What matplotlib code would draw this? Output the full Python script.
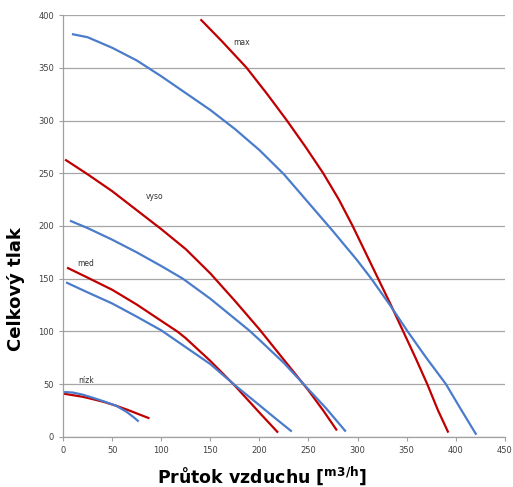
import matplotlib
matplotlib.use('Agg')
import matplotlib.pyplot as plt

# curve data (flow m3/h, total pressure)
max_red_x = [140, 162, 187, 208, 228, 247, 265, 281, 295, 308, 321, 334, 346.5, 359, 371, 382, 392.5]
max_red_y = [396, 375, 350, 325, 300, 275, 250, 225, 200, 175, 150, 125, 100, 75, 50, 25, 4]
max_blue_x = [9, 25, 50, 75, 100, 125, 150, 175, 200, 225, 250, 275, 300, 314, 333, 351, 370, 390, 406, 421]
max_blue_y = [382, 379, 369, 357, 342, 326, 310, 292, 272, 249, 222, 195, 167, 150, 125, 100, 75, 50, 25, 2]

vyso_red_x = [2, 25, 50, 75, 100, 125, 150, 175, 200, 225, 250, 265, 279]
vyso_red_y = [263, 249, 233, 215, 197, 178, 155, 129, 102, 73, 44, 25, 6]
vyso_blue_x = [7, 25, 50, 75, 100, 122, 150, 175, 189.5, 200, 225, 237, 250, 268, 288]
vyso_blue_y = [205, 198, 187, 175, 162, 150, 131, 112, 101, 92, 70, 58, 45, 27, 5]

med_red_x = [4, 25, 50, 75, 100, 117, 125, 150, 175, 200, 219]
med_red_y = [160.5, 151, 139.5, 125.5, 110, 99.5, 93.5, 72, 48.5, 23, 4]
med_blue_x = [3, 25, 50, 75, 100, 125, 150, 175, 200, 215, 233]
med_blue_y = [146.5, 137, 126.5, 114, 101, 85, 69, 49, 30, 18.5, 5]

nizk_red_x = [0, 10, 20, 30.5, 42, 54, 66, 77, 88]
nizk_red_y = [41, 39.5, 38, 35.7, 33, 29.5, 25.5, 21.5, 17.5]
nizk_blue_x = [1, 10, 20, 30.5, 42, 54, 65, 72, 77]
nizk_blue_y = [42.5, 42, 40, 37, 33.5, 29.5, 23.5, 18.5, 14.5]

labels = ['max', 'vyso', 'med', 'nízk']
label_x = [182, 93, 23, 23]
label_y = [374, 228, 164, 53]

red = '#C00000'
blue = '#4A7CCB'

fig = plt.figure(figsize=(5.13, 4.87), dpi=100)
ax = fig.add_axes([0.123, 0.103, 0.861, 0.866])

pairs = [(max_red_x, max_red_y, red), (max_blue_x, max_blue_y, blue),
         (vyso_red_x, vyso_red_y, red), (vyso_blue_x, vyso_blue_y, blue),
         (med_red_x, med_red_y, red), (med_blue_x, med_blue_y, blue),
         (nizk_red_x, nizk_red_y, red), (nizk_blue_x, nizk_blue_y, blue)]
for xs, ys, c in pairs:
    ax.plot(xs, ys, color=c, lw=1.6, solid_capstyle='butt', solid_joinstyle='round')

for t, x, y in zip(labels, label_x, label_y):
    ax.text(x, y, t, fontsize=5.5, color='#333333', ha='center', va='center')

ax.set_xlim(0, 450)
ax.set_ylim(0, 400)
ax.set_xticks(range(0, 451, 50))
ax.set_yticks(range(0, 401, 50))
ax.tick_params(labelsize=6, labelcolor='#404040', length=3, width=0.8, color='#A0A0A0')
ax.grid(axis='y', color='#A6A6A6', lw=0.9)
ax.set_axisbelow(True)
for s in ['top', 'right']:
    ax.spines[s].set_visible(False)
for s in ['left', 'bottom']:
    ax.spines[s].set_color('#A0A0A0')
    ax.spines[s].set_linewidth(0.9)

ax.set_ylabel('Celkový tlak', fontsize=13, fontweight='bold')
ax.set_xlabel(r'Průtok vzduchu [$^{\mathbf{m3/h}}$]', fontsize=12.5, fontweight='bold')
ax.yaxis.set_label_coords(-0.086, 0.35)
ax.xaxis.set_label_coords(0.45, -0.066)

plt.savefig('out.png', dpi=100)
plt.close()
